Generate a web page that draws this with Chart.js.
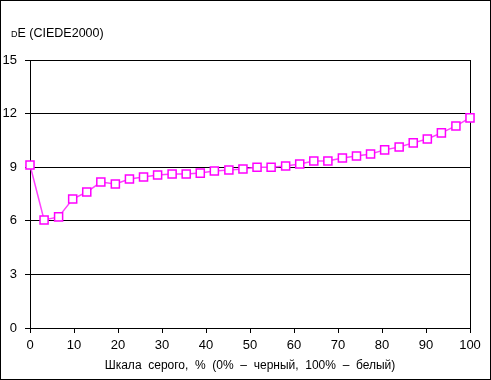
<!DOCTYPE html>
<html>
<head>
<meta charset="utf-8">
<script src="https://cdn.jsdelivr.net/npm/chart.js@4/dist/chart.umd.min.js"></script>
<style>
html,body{margin:0;padding:0;background:#fff;}
#wrap{width:491px;height:380px;position:relative;}
</style>
</head>
<body>
<div id="wrap"><canvas id="c" width="491" height="380"></canvas></div>
<script>
const grayLevels = [0, 3.2, 6.5, 9.7, 12.9, 16.1, 19.4, 22.6, 25.8, 29.0, 32.3, 35.5, 38.7, 41.9, 45.2, 48.4, 51.6, 54.8, 58.1, 61.3, 64.5, 67.7, 71.0, 74.2, 77.4, 80.6, 83.9, 87.1, 90.3, 93.5, 96.8, 100];
const deValues = [9.12, 6.05, 6.22, 7.22, 7.61, 8.17, 8.06, 8.34, 8.45, 8.56, 8.62, 8.62, 8.67, 8.79, 8.84, 8.9, 9.0, 9.0, 9.07, 9.18, 9.35, 9.35, 9.51, 9.63, 9.74, 9.97, 10.13, 10.36, 10.58, 10.92, 11.31, 11.76];
const xTicks = [0, 10, 20, 30, 40, 50, 60, 70, 80, 90, 100];
const yTicks = [0, 3, 6, 9, 12, 15];
const yTitleSmall = 'D';
const yTitleRest = 'E (CIEDE2000)';
const xTitle = 'Шкала  серого,  %  (0%  –  черный,  100%  –  белый)';

const FONT = 'Arial, "Liberation Sans", sans-serif';

const decor = {
  id: 'decor',
  afterDraw(chart) {
    const ctx = chart.ctx;
    ctx.save();
    ctx.strokeStyle = '#000';
    ctx.lineWidth = 1;
    ctx.strokeRect(0.5, 0.5, 490, 379);
    ctx.fillStyle = '#000';
    ctx.textBaseline = 'alphabetic';
    ctx.font = '9px ' + FONT;
    ctx.fillText(yTitleSmall, 11, 36.5);
    const w = ctx.measureText(yTitleSmall).width;
    ctx.font = '12.5px ' + FONT;
    ctx.fillText(yTitleRest, 11 + w, 36.5);
    ctx.restore();
  }
};

new Chart(document.getElementById('c'), {
  type: 'line',
  data: {
    datasets: [{
      data: grayLevels.map((x, i) => ({x: x, y: deValues[i]})),
      borderColor: '#ff40ff',
      borderWidth: 1.5,
      pointStyle: 'rect',
      pointRadius: 5.7,
      pointBorderWidth: 1.5,
      pointBorderColor: '#ff00ff',
      pointBackgroundColor: '#ffffff',
      tension: 0,
      clip: false
    }]
  },
  options: {
    responsive: false,
    animation: false,
    devicePixelRatio: 1,
    layout: {padding: {left: 0, right: 21, top: 60, bottom: 0}},
    plugins: {legend: {display: false}, tooltip: {enabled: false}},
    scales: {
      x: {
        type: 'linear',
        min: 0, max: 100,
        afterBuildTicks(s) { s.ticks = xTicks.map(v => ({value: v})); },
        afterFit(s) { s.height = 52; },
        border: {color: '#000', width: 1},
        grid: {
          color: c => (c.tick && c.tick.value === 100) ? '#000' : 'rgba(0,0,0,0)',
          tickColor: '#000',
          tickLength: 5,
          lineWidth: 1
        },
        ticks: {color: '#000', font: {family: FONT, size: 13}, padding: 5, maxRotation: 0, autoSkip: false},
        title: {display: true, text: xTitle, color: '#000', font: {family: FONT, size: 12}, padding: {top: 2, bottom: 7}}
      },
      y: {
        min: 0, max: 15,
        afterBuildTicks(s) { s.ticks = yTicks.map(v => ({value: v})); },
        afterFit(s) { s.width = 30; },
        border: {color: '#000', width: 1},
        grid: {color: '#000', tickColor: '#000', tickLength: 5, lineWidth: 1},
        ticks: {color: '#000', font: {family: FONT, size: 13}, padding: 8}
      }
    }
  },
  plugins: [decor]
});
</script>
</body>
</html>
